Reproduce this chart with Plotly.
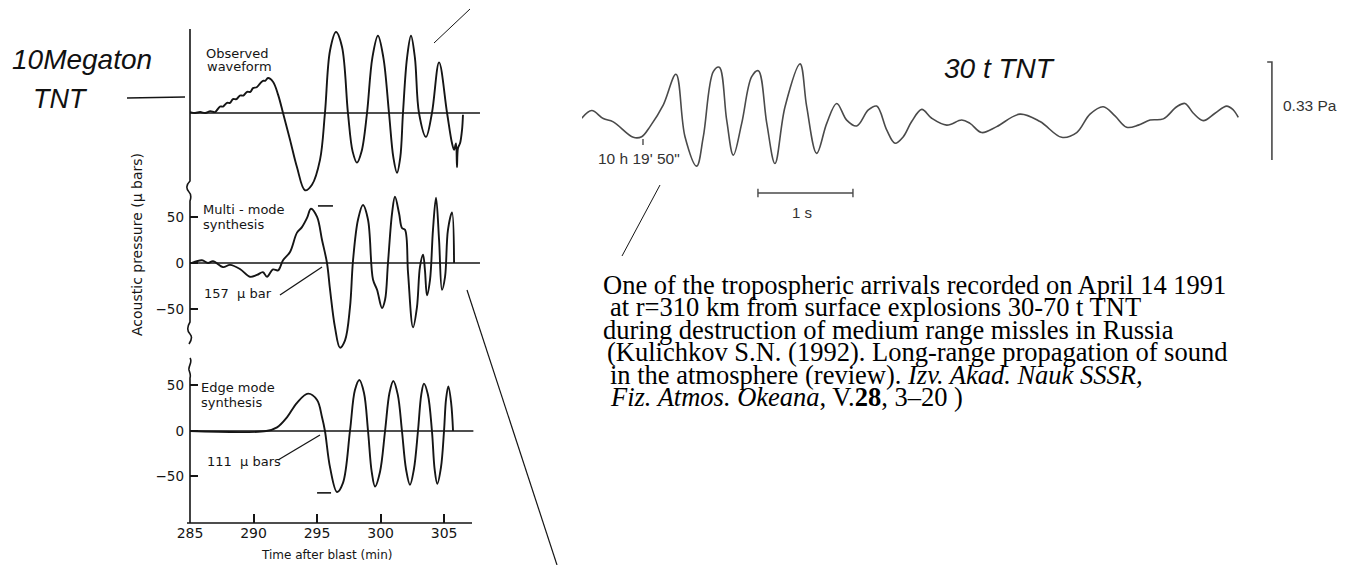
import plotly.graph_objects as go

W, H = 1346, 565          # target picture size
OFF = 8                   # page body margin of the browser
FW, FH = W - OFF, H - OFF # figure size

# ---------------- data ----------------
# 10 Megaton TNT: time after blast (min) / acoustic pressure (µbar)
obs_t = [285.0, 285.4, 285.8, 286.2, 286.6, 286.97, 287.36, 287.6, 287.91, 288.15, 288.38, 288.65,
         288.93, 289.2, 289.49, 289.75, 289.96, 290.25, 290.51, 290.74, 290.92, 291.14, 291.53, 291.93,
         292.32, 292.87, 293.42, 294.05, 294.6, 295.23, 295.62, 296.02, 296.49, 296.96, 297.43, 297.8,
         298.14, 298.5, 298.93, 299.35, 299.79, 300.22, 300.66, 301.0, 301.29, 301.55, 301.76, 302.08,
         302.39, 302.7, 303.02, 303.57, 304.04, 304.6, 305.23, 305.62, 305.78, 305.93, 306.01, 306.09,
         306.25, 306.41, 306.48]
obs_p = [1, 0, 1, 0, 2, 1, 7, 7, 11, 11, 15, 15,
         19, 19, 23, 23, 27, 28, 32, 35, 35, 38, 34, 20,
         0, -29, -59, -84, -78, -51, 0, 68, 88, 72, 0, -42,
         -54, -42, 0, 60, 84, 60, 0, -48, -65, -48, 0, 60,
         84, 60, 0, -26, 0, 55, 0, -33, -40, -33, -59, -38,
         -33, -18, -2]

multi_t = [285.16, 285.94, 286.42, 286.81, 287.60, 288.15, 288.93, 289.72, 290.27, 290.74, 291.06, 291.53,
           291.93, 292.32, 292.87, 293.42, 293.81, 294.21, 294.52, 295.0, 295.39, 295.78, 296.02, 296.41,
           296.80, 297.20, 297.59, 297.83, 298.22, 298.61, 299.01, 299.40, 299.72, 300.11, 300.35, 300.58,
           300.90, 301.13, 301.45, 301.68, 301.92, 302.16, 302.55, 302.86, 303.10, 303.34, 303.49, 303.65,
           303.89, 304.12, 304.36, 304.60, 304.83, 305.07, 305.30, 305.62, 305.78]
multi_p = [0, 3, 0, 2, -4.5, -2, -6.5, -15, -13, -10, -15, -7,
           -8, 3, 12, 33, 39, 49, 59, 50, 25, 0, -29, -70,
           -92, -84, -48, 3, 47, 63, 47, -18, -29, -49, -40, 0,
           54, 72, 54, 38, 36, -11, -70, -48, -4, 9, -8, -35,
           -18, 36, 71, 25, -29, -15, 36, 55, 0]

edge_t = [285.0, 291.0, 291.85, 292.63, 293.42, 294.29, 295.0, 295.39, 295.62, 296.02, 296.57, 297.04,
          297.59, 297.98, 298.33, 298.69, 299.01, 299.3, 299.56, 299.95, 300.35, 300.7, 301.0, 301.35,
          301.68, 302.0, 302.31, 302.62, 302.94, 303.2, 303.41, 303.72, 304.04, 304.25, 304.46, 304.75,
          304.99, 305.15, 305.33, 305.55, 305.7]
edge_p = [0, 0, 4, 15, 31, 41, 34, 15, 0, -40, -67, -57,
          0, 45, 56, 42, 0, -45, -61, -45, 0, 42, 55, 40,
          0, -42, -59, -42, 0, 40, 52, 40, 0, -42, -58, -40,
          0, 35, 49, 31, 0]

x_ticks = [285, 290, 295, 300, 305]
y_ticks = [-50, 0, 50]

# 30 t TNT record: time from 10 h 19' 50" (s) / pressure (Pa)
tnt_t = [-0.645, -0.540, -0.418, -0.313, -0.102, -0.014, 0.074, 0.214, 0.347, 0.442, 0.565, 0.635,
         0.740, 0.803, 0.881, 0.951, 1.039, 1.144, 1.214, 1.303, 1.389, 1.495, 1.653, 1.723,
         1.828, 1.934, 2.039, 2.144, 2.249, 2.372, 2.460, 2.565, 2.653, 2.740, 2.828, 2.934,
         3.039, 3.197, 3.355, 3.442, 3.565, 3.723, 3.968, 4.179, 4.407, 4.565, 4.705, 4.845,
         4.968, 5.091, 5.214, 5.337, 5.477, 5.618, 5.705, 5.793, 5.898, 6.021, 6.144, 6.214, 6.266]
tnt_p = [-0.001, 0.025, -0.002, -0.013, -0.065, -0.063, -0.029, 0.044, 0.147, -0.063, -0.162, -0.063,
         0.156, 0.171, -0.007, -0.125, -0.018, 0.139, 0.159, -0.018, -0.153, 0.038, 0.182, 0.038,
         -0.119, -0.018, 0.049, -0.007, -0.027, 0.027, 0.040, -0.040, -0.085, -0.063, -0.012, 0.029,
         -0.001, -0.024, -0.007, -0.018, -0.049, -0.029, 0.013, -0.012, -0.065, -0.049, 0.013, 0.038,
         0.007, -0.031, -0.024, -0.007, -0.003, 0.038, 0.049, 0.016, -0.009, 0.016, 0.040, 0.027, 0.002]

time_bar_s = 1.0          # horizontal scale bar (s)
time_bar_start = 1.21
press_bar_pa = 0.33       # vertical scale bar (Pa)
press_bar_t = 6.62
press_bar_bottom = -0.1414

# ---------------- helpers (picture pixels -> paper) ----------------
def X(p):
    return (p - OFF) / FW

def Y(p):
    return 1 - (p - OFF) / FH

def pp(x, y):
    return f"{X(x):.5f},{Y(y):.5f}"

INK = "#151515"
GRAY = "#4a4a4a"

fig = go.Figure()

line_ink = dict(color=INK, width=1.9, shape="spline", smoothing=1.0)

# zero lines
fig.add_trace(go.Scatter(x=[285, 307.82], y=[0, 0], mode="lines", line=dict(color=INK, width=1.5),
                         xaxis="x", yaxis="y", hoverinfo="skip"))
fig.add_trace(go.Scatter(x=[285, 307.82], y=[0, 0], mode="lines", line=dict(color=INK, width=1.5),
                         xaxis="x2", yaxis="y2", hoverinfo="skip"))
fig.add_trace(go.Scatter(x=[285, 307.3], y=[0, 0], mode="lines", line=dict(color=INK, width=1.5),
                         xaxis="x3", yaxis="y3", hoverinfo="skip"))

fig.add_trace(go.Scatter(x=obs_t, y=obs_p, mode="lines", line=line_ink, xaxis="x", yaxis="y"))
fig.add_trace(go.Scatter(x=multi_t, y=multi_p, mode="lines", line=line_ink, xaxis="x2", yaxis="y2"))
fig.add_trace(go.Scatter(x=edge_t, y=edge_p, mode="lines", line=line_ink, xaxis="x3", yaxis="y3"))

# short dashes / pointer lines inside the panels
fig.add_trace(go.Scatter(x=[295.07, 296.25], y=[62, 62], mode="lines", line=dict(color=INK, width=1.6),
                         xaxis="x2", yaxis="y2"))
fig.add_trace(go.Scatter(x=[292.08, 295.39], y=[-34.8, -4.3], mode="lines", line=dict(color=INK, width=1.3),
                         xaxis="x2", yaxis="y2"))
fig.add_trace(go.Scatter(x=[295.0, 296.1], y=[-68, -68], mode="lines", line=dict(color=INK, width=1.6),
                         xaxis="x3", yaxis="y3"))
fig.add_trace(go.Scatter(x=[291.93, 295.23], y=[-31.9, -4.4], mode="lines", line=dict(color=INK, width=1.3),
                         xaxis="x3", yaxis="y3"))

# 30 t TNT record
fig.add_trace(go.Scatter(x=tnt_t, y=tnt_p, mode="lines",
                         line=dict(color=GRAY, width=1.6, shape="spline", smoothing=1.0),
                         xaxis="x4", yaxis="y4"))
# time marker
fig.add_trace(go.Scatter(x=[0, 0], y=[-0.071, -0.091], mode="lines", line=dict(color=GRAY, width=1.4),
                         xaxis="x4", yaxis="y4"))
# 1 s bar
tb0, tb1 = time_bar_start, time_bar_start + time_bar_s
yb = -0.2525
fig.add_trace(go.Scatter(x=[tb0, tb1, None, tb0, tb0, None, tb1, tb1],
                         y=[yb, yb, None, yb + 0.014, yb - 0.014, None, yb + 0.014, yb - 0.014],
                         mode="lines", line=dict(color=GRAY, width=1.4), xaxis="x4", yaxis="y4"))
# 0.33 Pa bar
ptop = press_bar_bottom + press_bar_pa
fig.add_trace(go.Scatter(x=[press_bar_t - 0.05, press_bar_t, press_bar_t],
                         y=[ptop, ptop, press_bar_bottom],
                         mode="lines", line=dict(color=GRAY, width=1.6), xaxis="x4", yaxis="y4"))

# ---------------- axes ----------------
left_dom = [X(190), X(481)]
xr = [285, 307.9]
tickfont = dict(family="DejaVu Sans", size=13.5, color=INK)
hidden = dict(visible=False, showgrid=False, zeroline=False, automargin=False)

fig.update_layout(
    xaxis=dict(domain=left_dom, range=xr, anchor="y", **hidden),
    yaxis=dict(domain=[Y(200), Y(28)], range=[-94.6, 92.4], anchor="x", **hidden),
    xaxis2=dict(domain=left_dom, range=xr, anchor="y2", **hidden),
    yaxis2=dict(domain=[Y(352), Y(190)], range=[-96.7, 79.3], anchor="x2", automargin=False,
                showgrid=False, zeroline=False, showline=False,
                tickvals=y_ticks, ticks="inside", ticklen=8, tickwidth=1.5, tickcolor=INK,
                tickfont=tickfont, ticklabelstandoff=5),
    xaxis3=dict(domain=left_dom, range=xr, anchor="y3", automargin=False,
                showgrid=False, zeroline=False, showline=False,
                tickvals=x_ticks, ticks="inside", ticklen=9, tickwidth=1.5, tickcolor=INK,
                tickfont=dict(family="DejaVu Sans", size=14, color=INK)),
    yaxis3=dict(domain=[Y(523), Y(365)], range=[-101.1, 72.5], anchor="x3", automargin=False,
                showgrid=False, zeroline=False, showline=False,
                tickvals=y_ticks, ticks="inside", ticklen=8, tickwidth=1.5, tickcolor=INK,
                tickfont=tickfont, ticklabelstandoff=5),
    xaxis4=dict(domain=[X(582), X(1280)], range=[-0.642, 6.705], anchor="y4", **hidden),
    yaxis4=dict(domain=[Y(200), Y(55)], range=[-0.276, 0.212], anchor="x4", **hidden),
)

# ---------------- shapes (axis frame with breaks, pointer lines) ----------------
axis_path = (
    f"M{pp(190,29)} L{pp(190,181)} C{pp(186,185)} {pp(186,189)} {pp(189,192)} "
    f"C{pp(192,195)} {pp(191,198)} {pp(190,201)} L{pp(190,322)} "
    f"C{pp(187,327)} {pp(187,331)} {pp(190,334)} C{pp(193,337)} {pp(191,341)} {pp(189,344)} "
    f"M{pp(190,358)} C{pp(193,362)} {pp(188,366)} {pp(189,370)} C{pp(190,373)} {pp(191,375)} {pp(190,378)} "
    f"L{pp(190,523)} M{pp(187,523)} L{pp(472,523)}"
)
shapes = [dict(type="path", path=axis_path, xref="paper", yref="paper",
               line=dict(color=INK, width=1.6))]

def seg(x0, y0, x1, y1, color=INK, width=1.2):
    return dict(type="line", xref="paper", yref="paper", x0=X(x0), y0=Y(y0), x1=X(x1), y1=Y(y1),
                line=dict(color=color, width=width))

shapes += [
    seg(127, 98, 185, 97, width=1.3),
    seg(434, 43, 470, 9, width=1.0),
    seg(467, 290, 557, 565, width=1.2),
    seg(660, 185, 622, 256, width=1.0),
]
fig.update_layout(shapes=shapes)

# ---------------- annotations ----------------
ann = []

def txt(s, x, y, size, family, color=INK, xanchor="left", angle=0):
    ann.append(dict(text=s, x=X(x), y=Y(y), xref="paper", yref="paper", showarrow=False,
                    xanchor=xanchor, yanchor="middle", textangle=angle, borderpad=0,
                    font=dict(family=family, size=size, color=color)))

DV = "DejaVu Sans"
txt("Observed", 205, 53.5, 13, DV)
txt("waveform", 206, 66.5, 13, DV)
txt("Multi - mode", 202, 209, 13, DV)
txt("synthesis", 202, 225, 13, DV)
txt("157\u00a0\u00a0µ bar", 203, 293, 13, DV)
txt("Edge mode", 200, 387, 13, DV)
txt("synthesis", 200, 402, 13, DV)
txt("111\u00a0\u00a0µ bars", 206, 461, 13, DV)
txt("Acoustic pressure (µ bars)", 137, 245, 14, DV, xanchor="center", angle=-90)
txt("Time after blast (min)", 326.5, 555, 12, DV, xanchor="center")

AR = "Liberation Sans"
txt("<i>10Megaton</i>", 11, 60, 28, AR, color="#111111")
txt("<i>TNT</i>", 32, 99, 27, AR, color="#111111")
txt("<i>30 t TNT</i>", 943, 69, 28, AR, color="#111111")

txt("10 h 19' 50\"", 639, 158.5, 15.5, AR, color="#333333", xanchor="center")
txt("1 s", 802, 213, 15, AR, color="#333333", xanchor="center")
txt("0.33 Pa", 1282, 105, 15.5, AR, color="#333333")

TR = "Liberation Serif"
lines = [
    ("One of the tropospheric arrivals recorded on April 14 1991", 602, 285),
    ("at r=310 km from surface explosions 30-70 t TNT", 609, 307),
    ("during destruction of medium range missles in Russia", 602, 330),
    ("(Kulichkov S.N. (1992). Long-range propagation of sound", 606, 352),
    ("in the atmosphere (review). <i>Izv. Akad. Nauk SSSR,</i>", 609, 375),
    ("<i>Fiz. Atmos. Okeana</i>, V.<b>28</b>, 3\u201320 )", 609, 397),
]
for s, x, y in lines:
    txt(s, x, y, 26.5, TR, color="#000000")

fig.update_layout(
    annotations=ann,
    width=FW, height=FH, margin=dict(l=0, r=0, t=0, b=0, pad=0),
    paper_bgcolor="white", plot_bgcolor="rgba(0,0,0,0)",
    showlegend=False,
)

fig.write_html("out.html")
